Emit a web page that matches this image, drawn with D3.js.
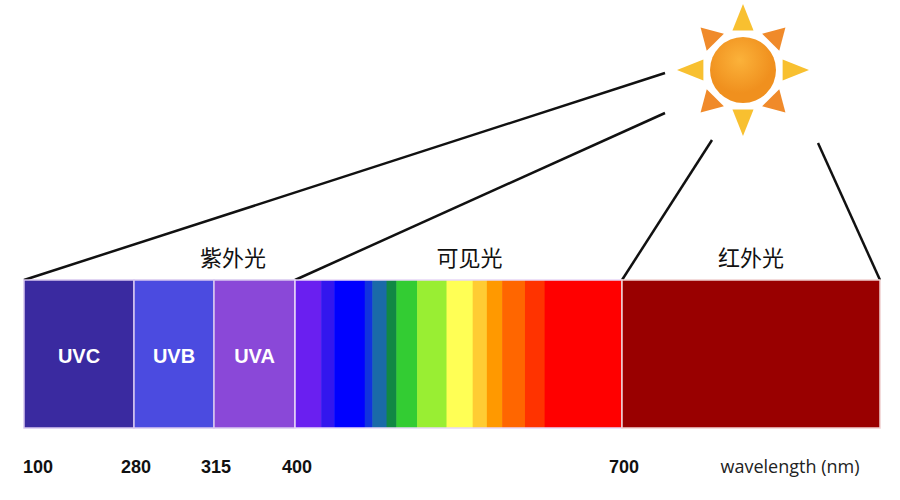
<!DOCTYPE html><html><head><meta charset="utf-8"><script src="https://cdn.jsdelivr.net/npm/d3@7"></script>
<style>body{margin:0;background:#fff}</style></head><body><svg width="900" height="500"></svg><script>
const ticks=[100,280,315,400,700];
const tickPx=[24,134,214,295,622,880];
const uvBands=[{n:"UVC",a:100,b:280,c:"#3a2aa0"},{n:"UVB",a:280,b:315,c:"#4b4be0"},{n:"UVA",a:315,b:400,c:"#8a48d8"}];
const visEdges=[400,424,436,464,471,484,493,512,539,563,576,590,611,629,700];
const visColors=["#6a1ff0","#3316ee","#0000ff","#1133dd","#1a6aa8","#118844","#33cc33","#99ee33","#ffff55","#ffcc33","#ff9900","#ff6600","#ff3300","#ff0000"];
const irBand={a:700,b:1000,c:"#990000"};
const groups=[{n:"紫外光",at:335},{n:"可见光",at:560},{n:"红外光",at:850}];
const x=d3.scaleLinear().domain([100,280,315,400,700,1000]).range(tickPx);
const svg=d3.select("svg"),y0=280,y1=428;
const f="'Liberation Sans',Arial,sans-serif";
[[100,665,73],[400,665,113],[700,712,140],[1000,818,143]].forEach(([w,sx,sy])=>svg.append("line").attr("x1",x(w)).attr("y1",y0).attr("x2",sx).attr("y2",sy).attr("stroke","#111").attr("stroke-width",2.5));
uvBands.forEach(d=>{svg.append("rect").attr("x",x(d.a)).attr("y",y0).attr("width",x(d.b)-x(d.a)).attr("height",y1-y0).attr("fill",d.c).attr("stroke","#d8c8f0").attr("stroke-width",1.5);
svg.append("text").attr("x",(x(d.a)+x(d.b))/2).attr("y",363).attr("text-anchor","middle").attr("fill","#fff").attr("font-family",f).attr("font-weight","bold").attr("font-size",20).text(d.n);});
visColors.forEach((c,i)=>svg.append("rect").attr("x",x(visEdges[i])).attr("y",y0).attr("width",x(visEdges[i+1])-x(visEdges[i])+0.5).attr("height",y1-y0).attr("fill",c));
svg.append("rect").attr("x",x(400)).attr("y",y0).attr("width",x(700)-x(400)).attr("height",y1-y0).attr("fill","none").attr("stroke","#e8d8f8").attr("stroke-width",1.5);
svg.append("rect").attr("x",x(irBand.a)).attr("y",y0).attr("width",x(irBand.b)-x(irBand.a)).attr("height",y1-y0).attr("fill",irBand.c).attr("stroke","#f0d0d0").attr("stroke-width",1.5);
groups.forEach(g=>svg.append("text").attr("x",x(g.at)).attr("y",266).attr("text-anchor","middle").attr("font-family","'Noto Sans CJK SC'").attr("font-size",22).attr("fill","#111").text(g.n));
ticks.forEach(t=>svg.append("text").attr("x",x(t)+(t==100?14:2)).attr("y",473).attr("text-anchor","middle").attr("font-family",f).attr("font-weight","bold").attr("font-size",18).attr("fill","#111").text(t));
svg.append("text").attr("x",790).attr("y",473).attr("text-anchor","middle").attr("font-family","'Open Sans',sans-serif").attr("font-size",18).attr("fill","#222").text("wavelength (nm)");
const cx=743,cy=70;
const gr=svg.append("defs").append("radialGradient").attr("id","sg").attr("cx","45%").attr("cy","35%");
gr.append("stop").attr("offset","0%").attr("stop-color","#fbb23a");gr.append("stop").attr("offset","100%").attr("stop-color","#f0901e");
for(let k=0;k<8;k++){const a=k*Math.PI/4,r1=41,r2=k%2?60:66,hw=k%2?0.30:0.26;
const p=[[Math.cos(a-hw)*r1,Math.sin(a-hw)*r1],[Math.cos(a)*r2,Math.sin(a)*r2],[Math.cos(a+hw)*r1,Math.sin(a+hw)*r1]];
svg.append("polygon").attr("points",p.map(q=>[cx+q[0],cy+q[1]].join(",")).join(" ")).attr("fill",k%2?"#f08a2a":"#f8c030");}
svg.append("circle").attr("cx",cx).attr("cy",cy).attr("r",33).attr("fill","url(#sg)");
</script></body></html>
